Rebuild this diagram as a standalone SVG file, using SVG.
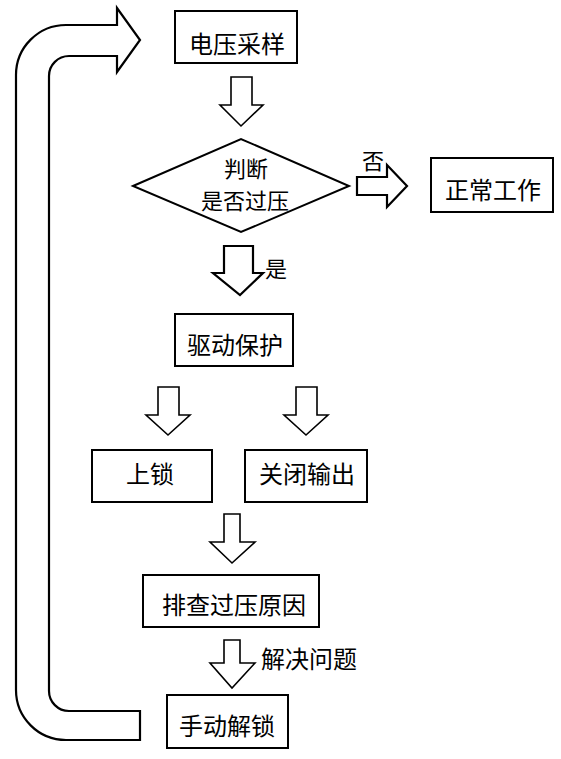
<svg xmlns="http://www.w3.org/2000/svg" width="561" height="759" viewBox="0 0 561 759">
<style>
.box{fill:#fff;stroke:#000;stroke-width:2}
.arr{fill:#fff;stroke:#000;stroke-width:1.6;stroke-linejoin:miter}
.arr2{fill:#fff;stroke:#000;stroke-width:2.2;stroke-linejoin:miter}
.t{font-family:"Noto Sans CJK SC","Liberation Sans",sans-serif;font-size:24px;fill:#000;text-anchor:middle;dominant-baseline:central}
.lbl{font-family:"Noto Sans CJK SC","Liberation Sans",sans-serif;font-size:22px;fill:#000;text-anchor:middle;dominant-baseline:central}
</style>
<rect width="561" height="759" fill="#fff"/>
<g id="connectors">
<path class="arr2" d="M140,740 L66,740 A50,50 0 0 1 16,690 L16,75 A50,50 0 0 1 66,25 L117,25 L117,8 L140,40 L117,72 L117,56 L69,56 A20,20 0 0 0 49,76 L49,691 A20,20 0 0 0 69,711 L140,711 Z"/>
<polygon class="arr" points="231,77 252,77 252,105 263,105 241,126 220,105 231,105"/>
<polygon class="arr2" points="357,177 387,177 387,165 407,186 387,207 387,195 357,195"/>
<polygon class="arr2" points="224,246 253,246 253,273 263,273 240,295 213,273 224,273"/>
<polygon class="arr" points="158,387 179,387 179,415 190,415 168,435 146,415 158,415"/>
<polygon class="arr" points="296,387 317,387 317,415 328,415 306,435 284,415 296,415"/>
<polygon class="arr" points="224,514 240,514 240,542 255,542 232,563 210,542 224,542"/>
<polygon class="arr" points="224,640 240,640 240,663 255,663 232,688 210,663 224,663"/>
<text class="lbl" x="373" y="159">否</text>
<text class="lbl" x="276" y="267">是</text>
<text class="t" x="309" y="657">解决问题</text>
</g>
<g id="n1"><rect class="box" x="175" y="11" width="122" height="52"/><text class="t" x="237" y="42">电压采样</text></g>
<g id="n2"><polygon class="box" points="133,186 241,139 349,186 241,232"/><text class="lbl" x="246" y="167">判断</text><text class="lbl" x="245" y="199">是否过压</text></g>
<g id="n3"><rect class="box" x="431" y="158" width="122" height="54"/><text class="t" x="493" y="188">正常工作</text></g>
<g id="n4"><rect class="box" x="175" y="314" width="118" height="52"/><text class="t" x="235" y="343">驱动保护</text></g>
<g id="n5"><rect class="box" x="92" y="450" width="120" height="52"/><text class="t" x="150" y="472">上锁</text></g>
<g id="n6"><rect class="box" x="245" y="450" width="122" height="52"/><text class="t" x="307" y="472">关闭输出</text></g>
<g id="n7"><rect class="box" x="143" y="575" width="176" height="52"/><text class="t" x="234" y="603">排查过压原因</text></g>
<g id="n8"><rect class="box" x="167" y="695" width="121" height="53"/><text class="t" x="227" y="724">手动解锁</text></g>
</svg>
